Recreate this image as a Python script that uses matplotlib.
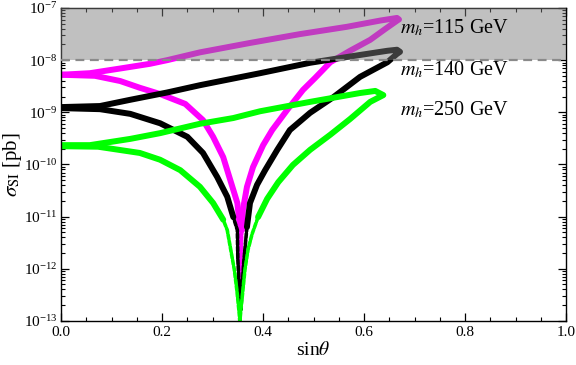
import numpy as np
import matplotlib.pyplot as plt
from matplotlib.ticker import MultipleLocator, LogLocator, NullFormatter

plt.rcParams['font.family'] = ['Liberation Serif', 'DejaVu Serif']
plt.rcParams['mathtext.fontset'] = 'stix'

# values: x = sin(theta), y = log10(sigma_SI / pb)
# each path runs x=0 -> upper branch -> tip -> down into the dip -> lower branch -> x=0

x_115 = [0.000, 0.057, 0.117, 0.176, 0.210, 0.275, 0.374, 0.473, 0.566, 0.632, 0.665, 0.669,
         0.667, 0.642, 0.612, 0.572, 0.533, 0.503, 0.479, 0.448, 0.418, 0.400, 0.380,
         0.368, 0.360, 0.358, 0.356, 0.354,
         0.354, 0.354, 0.349, 0.335, 0.321, 0.301, 0.281, 0.246, 0.196, 0.156, 0.117,
         0.067, 0.000]
y_115 = [-8.28, -8.25, -8.16, -8.07, -8.00, -7.85, -7.67, -7.50, -7.36, -7.24, -7.19, -7.22,
         -7.23, -7.40, -7.61, -7.82, -8.04, -8.34, -8.57, -8.95, -9.34, -9.63, -10.05,
         -10.43, -10.87, -11.26, -11.83, -12.55,
         -11.80, -11.20, -10.74, -10.30, -9.86, -9.47, -9.15, -8.84, -8.65, -8.53, -8.40,
         -8.30, -8.28]

x_140 = [0.000, 0.077, 0.137, 0.210, 0.275, 0.394, 0.493, 0.592, 0.646, 0.665, 0.671,
         0.665, 0.646, 0.592, 0.539, 0.493, 0.453, 0.428, 0.404, 0.388, 0.374, 0.368,
         0.362, 0.358, 0.356,
         0.354, 0.350, 0.349, 0.341, 0.329, 0.309, 0.281, 0.250, 0.196, 0.137, 0.077, 0.000]
y_140 = [-8.90, -8.88, -8.76, -8.62, -8.48, -8.25, -8.05, -7.90, -7.82, -7.80, -7.84,
         -7.88, -8.04, -8.32, -8.71, -9.01, -9.34, -9.72, -10.11, -10.39, -10.74, -11.20,
         -11.83, -12.41, -12.80,
         -12.60, -11.83, -11.26, -11.01, -10.62, -10.24, -9.78, -9.47, -9.21, -9.03, -8.94, -8.92]

x_250 = [0.000, 0.057, 0.137, 0.196, 0.275, 0.341, 0.394, 0.493, 0.592, 0.622, 0.638,
         0.612, 0.572, 0.533, 0.493, 0.459, 0.430, 0.408, 0.390, 0.378, 0.370, 0.364,
         0.360, 0.356, 0.354,
         0.352, 0.348, 0.343, 0.329, 0.321, 0.301, 0.275, 0.236, 0.196, 0.156, 0.073, 0.000]
y_250 = [-9.63, -9.63, -9.51, -9.40, -9.22, -9.11, -8.98, -8.80, -8.63, -8.59, -8.67,
         -8.80, -9.13, -9.43, -9.72, -10.01, -10.34, -10.66, -11.01, -11.34, -11.64, -12.02,
         -12.41, -12.79, -13.00,
         -12.79, -12.41, -12.02, -11.26, -11.06, -10.74, -10.43, -10.11, -9.91, -9.78, -9.66, -9.65]

series = [
    (x_115, y_115, '#ff00ff', r'$m_h$=115 GeV', -7.38),
    (x_140, y_140, '#000000', r'$m_h$=140 GeV', -8.19),
    (x_250, y_250, '#00ff00', r'$m_h$=250 GeV', -8.95),
]

fig = plt.figure(figsize=(5.76, 3.65), dpi=100)
ax = fig.add_axes([0.106, 0.121, 0.877, 0.857])

for xs, ys, col, lab, ylab in series:
    xs = np.array(xs)
    ys = np.array(ys)
    deep = np.where(ys < -10.9)[0]
    i1, i2 = deep[0], deep[-1]
    # thick band for the smooth parts, thinner scattered-looking part in the dip
    for a, b, lw, ls in [(0, i1 + 1, 4.3, '-'), (i2, len(xs), 4.3, '-'),
                         (i1, i2 + 1, 2.6, (0, (1.2, 0.6)))]:
        ax.plot(xs[a:b], 10.0 ** ys[a:b], color=col, lw=lw, ls=ls,
                solid_capstyle='round', solid_joinstyle='round',
                dash_capstyle='round', zorder=2)
    ax.text(0.67, 10.0 ** ylab, lab, fontsize=14.5, va='center', ha='left', zorder=5)

# excluded region above 1e-8 pb
ax.axhspan(1e-8, 1e-7, color='#7d7d7d', alpha=0.48, lw=0, zorder=3)
ax.axhline(1e-8, color='#8a8a8a', lw=1.6, ls=(0, (4, 2.5)), zorder=4)

ax.set_yscale('log')
ax.set_xlim(0, 1)
ax.set_ylim(1e-13, 1e-7)

ax.xaxis.set_major_locator(MultipleLocator(0.2))
ax.xaxis.set_minor_locator(MultipleLocator(0.05))
ax.yaxis.set_major_locator(LogLocator(base=10, numticks=10))
ax.yaxis.set_minor_locator(LogLocator(base=10, subs=np.arange(2, 10), numticks=10))
ax.yaxis.set_minor_formatter(NullFormatter())

ax.tick_params(which='both', direction='in', top=True, right=True, labelsize=11)
ax.tick_params(which='major', length=6, width=0.9)
ax.tick_params(which='minor', length=3, width=0.8)
ax.tick_params(axis='y', which='major', pad=2.5)
for s in ax.spines.values():
    s.set_linewidth(1.0)

ax.set_xlabel(r'sin$\theta$', fontsize=14, labelpad=2)
ax.set_ylabel(r'$\sigma_{\mathrm{SI}}$ [pb]', fontsize=15)
ax.yaxis.set_label_coords(-0.074, 0.5)

fig.savefig('out.png', dpi=100)
